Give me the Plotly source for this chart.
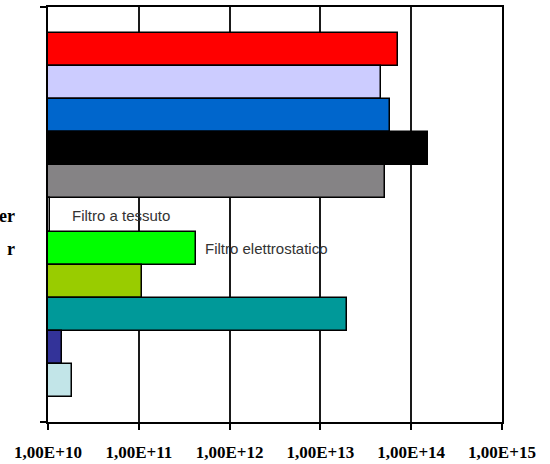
import math
import plotly.graph_objects as go

# Row positions, top to bottom
rows = list(range(11))
values = [7.2e13, 4.6e13, 5.8e13, 1.54e14, 5.2e13, 1.05e10, 4.27e11, 1.08e11, 1.95e13, 1.44e10, 1.85e10]
colors = ["#FF0000", "#CCCCFF", "#0066CC", "#000000", "#858385", "#FFFFFF",
          "#00FF00", "#99CC00", "#009999", "#333399", "#C2E5E8"]

# Labels written next to some bars
bar_labels = {5: ("Filtro a tessuto", 20), 6: ("Filtro elettrostatico", 7)}
# Partially visible row captions on the far left
row_captions = {5: "er", 6: "r"}

tick_vals = [1e10, 1e11, 1e12, 1e13, 1e14, 1e15]
tick_text = ["1,00E+10", "1,00E+11", "1,00E+12", "1,00E+13", "1,00E+14", "1,00E+15"]

y_top, y_bottom = -1.285, 11.255
plot_w = 550 - 48 - 48

fig = go.Figure(go.Bar(
    x=values, y=rows, orientation="h",
    marker=dict(color=colors, line=dict(color="#000000", width=1.5)),
    width=1.0, hoverinfo="skip",
))

annotations = []
for r, (txt, shift) in bar_labels.items():
    annotations.append(dict(
        x=math.log10(values[r]), y=r, xref="x", yref="y", text=txt,
        showarrow=False, xanchor="left", yanchor="middle", xshift=shift,
        font=dict(family="Liberation Sans, Arial", size=15, color="#333333"),
    ))
for r, txt in row_captions.items():
    annotations.append(dict(
        x=(17 - 48) / plot_w, y=r, xref="paper", yref="y", text=txt,
        showarrow=False, xanchor="right", yanchor="middle", yshift=-1,
        font=dict(family="Liberation Serif, Times New Roman", size=18, color="#000000",
                  weight="bold"),
    ))

# Short stubs of the value axis sticking out at top and bottom
stub = 8 / plot_w
shapes = [
    dict(type="line", xref="paper", yref="paper", x0=-stub, x1=0, y0=yy, y1=yy,
         line=dict(color="#000000", width=2))
    for yy in (0, 1)
]

fig.update_layout(
    width=550, height=464,
    margin=dict(l=48, r=48, t=7, b=42, autoexpand=False),
    paper_bgcolor="white", plot_bgcolor="white",
    showlegend=False, bargap=0,
    annotations=annotations, shapes=shapes,
    xaxis=dict(
        type="log", range=[10, 15], automargin=False,
        tickvals=tick_vals, ticktext=tick_text,
        ticks="outside", ticklen=6, tickwidth=2, tickcolor="#000000",
        ticklabelstandoff=8,
        tickfont=dict(family="Liberation Serif, Times New Roman", size=17,
                      color="#000000", weight="bold"),
        showline=True, linecolor="#000000", linewidth=2, mirror=True,
        showgrid=True, gridcolor="#1a1a1a", gridwidth=2,
        zeroline=False,
    ),
    yaxis=dict(
        range=[y_bottom, y_top], automargin=False,
        showticklabels=False, ticks="",
        showline=True, linecolor="#000000", linewidth=2, mirror=True,
        showgrid=False, zeroline=False,
    ),
)

fig.write_html("out.html")
